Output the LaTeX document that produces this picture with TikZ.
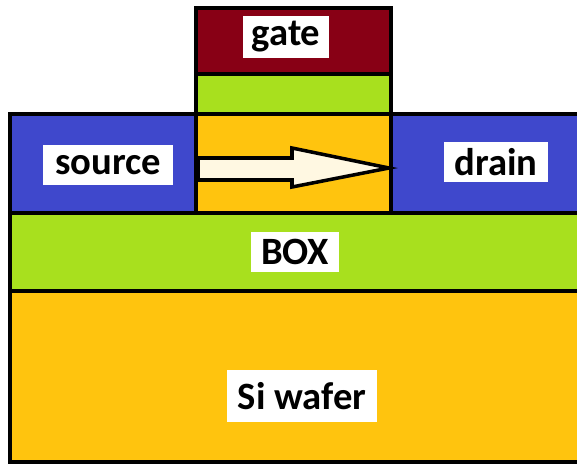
\documentclass[tikz,border=0pt]{standalone}
\usepackage{fontspec}
\setmainfont{Carlito}
\definecolor{gatered}{HTML}{880015}
\definecolor{oxgreen}{HTML}{A8E01E}
\definecolor{sigold}{HTML}{FFC40E}
\definecolor{sdblue}{HTML}{3F48CC}
\definecolor{arrowfill}{HTML}{FFF8E2}
\tikzset{
  layer/.style={draw=black, line width=2.3pt},
  lbl/.style={fill=white, text=black, font=\fontsize{22}{24}\selectfont\bfseries,
    inner xsep=6pt, minimum height=0.8cm}
}
\begin{document}
\begin{tikzpicture}[x=0.02cm, y=-0.02cm]
	\useasboundingbox (0,0) rectangle (577,466);
	\clip (0,0) rectangle (577,466);
	% Substrate and buried oxide
	\draw [layer, fill=sigold] (10,291) rectangle (600,462);
	\draw [layer, fill=oxgreen] (10,213) rectangle (600,291);
	% Source, channel and drain
	\draw [layer, fill=sdblue] (10,114) rectangle (196,213);
	\draw [layer, fill=sigold] (196,114) rectangle (391,213);
	\draw [layer, fill=sdblue] (391,114) rectangle (600,213);
	% Gate stack
	\draw [layer, fill=oxgreen] (196,74) rectangle (391,114);
	\draw [layer, fill=gatered] (196,8) rectangle (391,74);
	% Current arrow
	\draw [line width=2pt, fill=arrowfill, line join=miter]
	  (198,158) -- (292,158) -- (292,148) -- (389,168) -- (292,187) -- (292,180) -- (198,180) -- cycle;
	% Labels
	\node [lbl, inner xsep=5pt] (gate) at (286,37) {gate};
	\node [lbl, inner xsep=7pt] (source) at (108,165) {source};
	\node [lbl] (drain) at (496,162) {drain};
	\node [lbl] (box) at (295,252) {BOX};
	\node [lbl, minimum height=1.04cm] (wafer) at (302,396) {Si wafer};
\end{tikzpicture}
\end{document}
